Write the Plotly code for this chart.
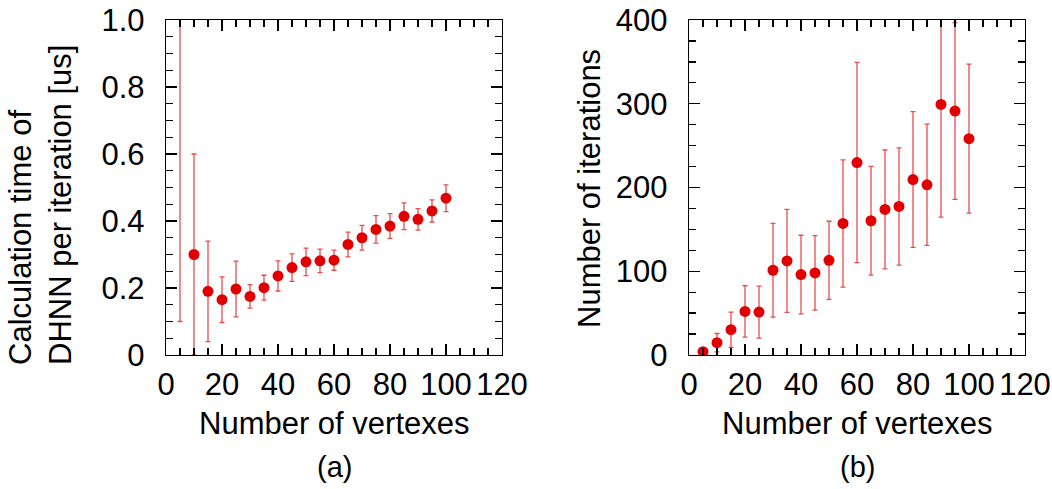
import plotly.graph_objects as go

vertexes = [5, 10, 15, 20, 25, 30, 35, 40, 45, 50, 55, 60, 65, 70, 75, 80, 85, 90, 95, 100]
time_mean = [1.10, 0.30, 0.19, 0.165, 0.197, 0.175, 0.201, 0.236, 0.261, 0.278,
             0.281, 0.283, 0.330, 0.350, 0.375, 0.385, 0.414, 0.405, 0.430, 0.468]
time_err = [1.00, 0.30, 0.15, 0.068, 0.083, 0.035, 0.037, 0.045, 0.041, 0.041,
            0.035, 0.030, 0.037, 0.037, 0.041, 0.037, 0.040, 0.032, 0.033, 0.040]
iter_mean = [4, 14.7, 30.2, 52.0, 51.2, 101.2, 112.3, 96.0, 98.0, 113.1,
             157.1, 229.8, 160.3, 173.8, 177.4, 209.5, 203.2, 299.2, 291.3, 258.3]
iter_err = [1, 11, 21, 30.7, 31, 56, 61.5, 47, 44.5, 46.6,
            76, 119.5, 65, 71, 70, 81, 72.4, 134.6, 105.5, 89]

x_ticks = [0, 20, 40, 60, 80, 100, 120]
y1_ticks = [0, 0.2, 0.4, 0.6, 0.8, 1.0]
y1_text = ["0", "0.2", "0.4", "0.6", "0.8", "1.0"]
y2_ticks = [0, 100, 200, 300, 400]

W, H = 1052, 489
FONT = "Liberation Sans, Arial, sans-serif"
RED = "#e00000"
FS = 31

fig = go.Figure()
fig.add_trace(go.Scatter(
    x=vertexes, y=time_mean, mode="markers", xaxis="x", yaxis="y",
    marker=dict(color=RED, size=11),
    error_y=dict(type="data", array=time_err, color="rgba(224,0,0,0.7)", thickness=1.3, width=2.5),
    showlegend=False, hoverinfo="skip"))
fig.add_trace(go.Scatter(
    x=vertexes, y=iter_mean, mode="markers", xaxis="x2", yaxis="y2",
    marker=dict(color=RED, size=11),
    error_y=dict(type="data", array=iter_err, color="rgba(224,0,0,0.7)", thickness=1.3, width=2.5),
    showlegend=False, hoverinfo="skip"))

def px_x(p):
    return p / W

def px_y(p):
    return 1 - p / H

common = dict(showline=True, linecolor="black", linewidth=1.3, mirror="ticks",
              ticks="inside", ticklen=11, tickwidth=1.3, tickcolor="black",
              showgrid=False, zeroline=False, automargin=False,
              tickfont=dict(family=FONT, size=FS, color="black"))

xa = dict(common, range=[0, 120], tickvals=x_ticks, ticktext=[str(v) for v in x_ticks],
          minor=dict(dtick=5, ticks="inside", ticklen=7, tickwidth=1.3, tickcolor="black", showgrid=False),
          ticklabelstandoff=1)

fig.update_layout(
    width=W, height=H, margin=dict(l=0, r=0, t=0, b=0, autoexpand=False),
    paper_bgcolor="white", plot_bgcolor="white",
    xaxis=dict(xa, domain=[px_x(166), px_x(502)], anchor="y"),
    yaxis=dict(common, range=[0, 1], tickvals=y1_ticks, ticktext=y1_text,
               domain=[px_y(355), px_y(20)], anchor="x", ticklabelstandoff=14,
               minor=dict(dtick=0.05, ticks="inside", ticklen=7, tickwidth=1.3, tickcolor="black", showgrid=False)),
    xaxis2=dict(xa, domain=[px_x(689), px_x(1025)], anchor="y2"),
    yaxis2=dict(common, range=[0, 400], tickvals=y2_ticks, ticktext=[str(v) for v in y2_ticks],
                domain=[px_y(355), px_y(20)], anchor="x2", ticklabelstandoff=14,
                minor=dict(dtick=25, ticks="inside", ticklen=7, tickwidth=1.3, tickcolor="black", showgrid=False)),
)

tf = dict(family=FONT, size=FS, color="black")
ann = [
    dict(text="Number of vertexes", x=px_x(334), y=px_y(423), xanchor="center", yanchor="middle"),
    dict(text="Number of vertexes", x=px_x(857), y=px_y(423), xanchor="center", yanchor="middle"),
    dict(text="(a)", x=px_x(334), y=px_y(467), xanchor="center", yanchor="middle", font=dict(family=FONT, size=29, color="black")),
    dict(text="(b)", x=px_x(857), y=px_y(467), xanchor="center", yanchor="middle", font=dict(family=FONT, size=29, color="black")),
    dict(text="Calculation time of<br>DHNN per iteration [us]", x=px_x(40), y=px_y(205),
         xanchor="center", yanchor="middle", textangle=-90, align="left"),
    dict(text="Number of iterations", x=px_x(589), y=px_y(189), xanchor="center", yanchor="middle", textangle=-90),
]
for a in ann:
    a.setdefault("font", tf)
    fig.add_annotation(xref="paper", yref="paper", showarrow=False, **a)

fig.write_html("out.html", config={"displayModeBar": False, "staticPlot": True},
               post_script="document.body.style.margin='0';")
